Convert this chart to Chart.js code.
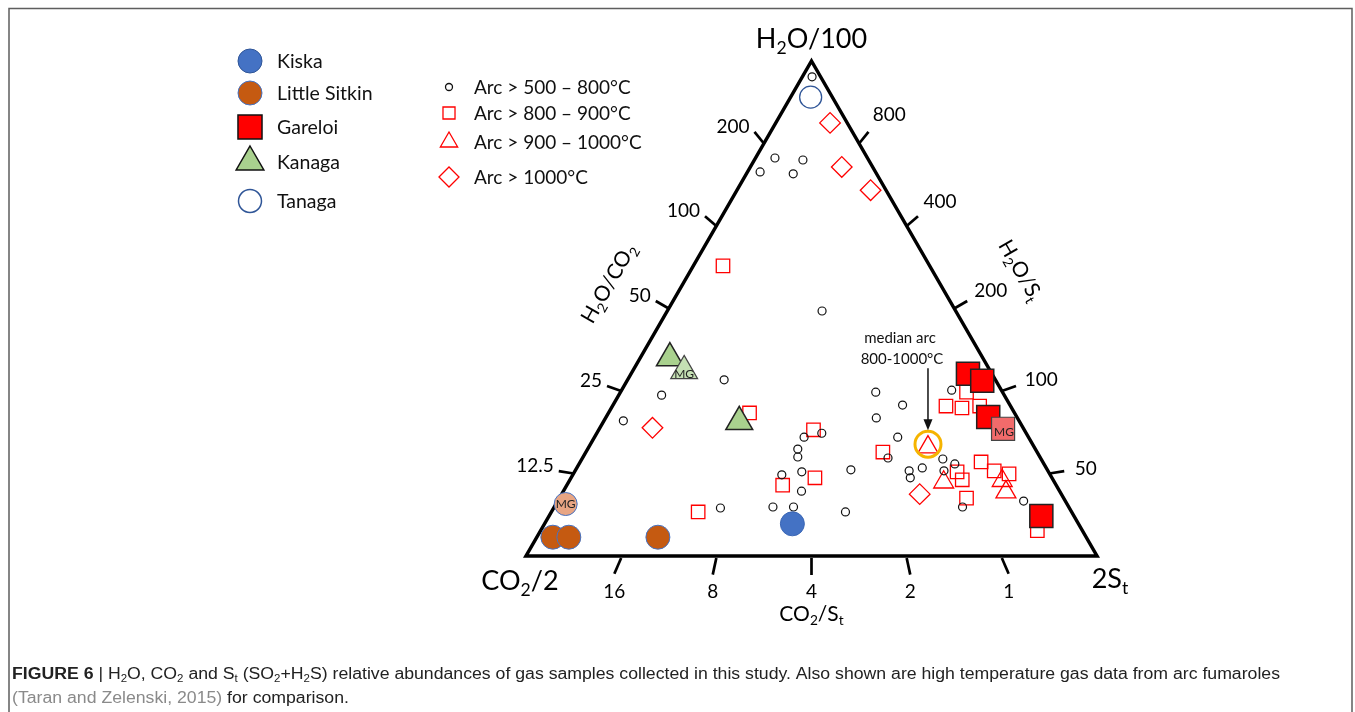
<!DOCTYPE html>
<html>
<head>
<meta charset="utf-8">
<script src="https://cdn.jsdelivr.net/npm/chart.js@4.4.0/dist/chart.umd.min.js"></script>
<style>
  html, body { margin: 0; padding: 0; background: #fff; }
  #wrap { width: 1355px; height: 712px; }
</style>
</head>
<body>
<div id="wrap"><canvas id="ternary" width="1355" height="712"></canvas></div>
<script>
// every point is [H2O/100 fraction, 2St fraction]; CO2/2 is what is left
const arc500_800 = [
  [0.968, 0.017], [0.804, 0.034], [0.776, 0.022], [0.772, 0.082], [0.800, 0.085],
  [0.495, 0.271], [0.356, 0.169], [0.325, 0.075], [0.273, 0.034], [0.240, 0.367],
  [0.248, 0.394], [0.216, 0.368], [0.200, 0.376], [0.164, 0.366], [0.170, 0.398],
  [0.131, 0.417], [0.097, 0.292], [0.099, 0.383], [0.099, 0.419], [0.174, 0.482],
  [0.089, 0.515], [0.331, 0.447], [0.305, 0.507], [0.279, 0.474], [0.240, 0.531],
  [0.198, 0.535], [0.172, 0.585], [0.158, 0.594], [0.178, 0.605], [0.196, 0.632],
  [0.172, 0.646], [0.186, 0.658], [0.099, 0.715], [0.111, 0.816], [0.335, 0.578]
];
const arc800_900 = [
  [0.586, 0.052], [0.289, 0.247], [0.255, 0.376], [0.143, 0.378], [0.158, 0.427],
  [0.089, 0.257], [0.210, 0.520], [0.303, 0.584], [0.299, 0.614], [0.331, 0.606],
  [0.303, 0.643], [0.190, 0.702], [0.170, 0.670], [0.154, 0.687], [0.172, 0.734],
  [0.166, 0.763], [0.117, 0.713], [0.051, 0.870]
];
const arc900_1000 = [[0.220, 0.594], [0.149, 0.657], [0.152, 0.758], [0.129, 0.776]];
const arc1000 = [[0.875, 0.095], [0.786, 0.160], [0.739, 0.234], [0.259, 0.092], [0.125, 0.627]];

const kiska = [[0.065, 0.434]];
const littleSitkin = [[0.038, 0.028], [0.038, 0.056], [0.038, 0.212]];
const littleSitkinMG = [[0.105, 0.017]];
const gareloi = [[0.368, 0.590], [0.354, 0.622], [0.281, 0.669], [0.081, 0.862]];
const gareloiMG = [[0.257, 0.707]];
const kanaga = [[0.400, 0.052], [0.271, 0.238]];
const kanagaMG = [[0.374, 0.090]];
const tanaga = [[0.927, 0.035]];
const medianArc = [[0.226, 0.591]];

// tick positions along each edge (fraction) and their labels
const edgeTickPos = [5 / 6, 4 / 6, 3 / 6, 2 / 6, 1 / 6];
const h2oCo2Ticks = ['200', '100', '50', '25', '12.5'];
const h2oStTicks = ['800', '400', '200', '100', '50'];
const baseTickPos = [1 / 6, 2 / 6, 3 / 6, 4 / 6, 5 / 6];
const co2StTicks = ['16', '8', '4', '2', '1'];

const FONT = 'Lato, "Open Sans", sans-serif';
const CAP_FONT = '"Liberation Sans", Arial, sans-serif';

const toXY = pts => pts.map(([h, s]) => ({ x: s + h / 2, y: h }));

function ds(label, pts, style, radius, fill, stroke, bw) {
  return {
    label: label,
    data: toXY(pts),
    pointStyle: style,
    pointRadius: radius,
    pointHoverRadius: radius,
    pointBackgroundColor: fill,
    pointBorderColor: stroke,
    pointBorderWidth: bw,
    showLine: false,
    clip: false
  };
}

function marker(ctx, style, cx, cy, r, fill, stroke, lw) {
  ctx.beginPath();
  if (style === 'circle') {
    ctx.arc(cx, cy, r, 0, Math.PI * 2);
  } else if (style === 'rect') {
    const a = r * Math.SQRT1_2;
    ctx.rect(cx - a, cy - a, 2 * a, 2 * a);
  } else if (style === 'triangle') {
    ctx.moveTo(cx, cy - r);
    ctx.lineTo(cx + r * 0.866, cy + r / 2);
    ctx.lineTo(cx - r * 0.866, cy + r / 2);
    ctx.closePath();
  } else if (style === 'rectRot') {
    ctx.moveTo(cx - r, cy);
    ctx.lineTo(cx, cy - r);
    ctx.lineTo(cx + r, cy);
    ctx.lineTo(cx, cy + r);
    ctx.closePath();
  }
  if (fill) { ctx.fillStyle = fill; ctx.fill(); }
  if (stroke) { ctx.strokeStyle = stroke; ctx.lineWidth = lw; ctx.stroke(); }
}

// parts: [text, kind] where kind is '' normal, 's' subscript, 'b' bold, 'g' grey
function partFont(kind, size, family) {
  if (kind === 's') return (size * 0.65).toFixed(1) + 'px ' + family;
  if (kind === 'b') return 'bold ' + size + 'px ' + family;
  return size + 'px ' + family;
}
function richWidth(ctx, parts, size, family) {
  let w = 0;
  parts.forEach(([t, k]) => { ctx.font = partFont(k, size, family); w += ctx.measureText(t).width; });
  return w;
}
function drawRich(ctx, parts, x, y, size, align, color, family) {
  family = family || FONT;
  const w = richWidth(ctx, parts, size, family);
  let cx = align === 'center' ? x - w / 2 : align === 'right' ? x - w : x;
  const base = y + size * 0.36;
  ctx.textAlign = 'left';
  ctx.textBaseline = 'alphabetic';
  parts.forEach(([t, k]) => {
    ctx.font = partFont(k, size, family);
    ctx.fillStyle = k === 'g' ? '#8a8a8a' : color;
    ctx.fillText(t, cx, k === 's' ? base + size * 0.22 : base);
    cx += ctx.measureText(t).width;
  });
}

const unit = (dx, dy) => { const l = Math.hypot(dx, dy); return [dx / l, dy / l]; };

const ternaryFrame = {
  id: 'ternaryFrame',
  beforeDatasetsDraw(chart) {
    const { ctx, scales: { x, y } } = chart;
    const px = (u, h) => [x.getPixelForValue(u), y.getPixelForValue(h)];
    const A = px(0.5, 1), L = px(0, 0), R = px(1, 0);
    ctx.save();

    // page frame
    ctx.strokeStyle = '#5e5e5e';
    ctx.lineWidth = 1.5;
    ctx.beginPath();
    ctx.moveTo(9, 720); ctx.lineTo(9, 8.5); ctx.lineTo(1352, 8.5); ctx.lineTo(1352, 720);
    ctx.stroke();

    // triangle
    ctx.strokeStyle = '#000';
    ctx.lineWidth = 3.5;
    ctx.lineJoin = 'miter';
    ctx.beginPath();
    ctx.moveTo(A[0], A[1]); ctx.lineTo(R[0], R[1]); ctx.lineTo(L[0], L[1]); ctx.closePath();
    ctx.stroke();

    // ticks
    ctx.lineWidth = 2.7;
    edgeTickPos.forEach((h, i) => {
      // left edge (H2O/CO2), ticks point away from the 2St corner
      let E = px(h / 2, h), d = unit(E[0] - R[0], E[1] - R[1]);
      let end = [E[0] + d[0] * 15, E[1] + d[1] * 15];
      ctx.beginPath(); ctx.moveTo(E[0], E[1]); ctx.lineTo(end[0], end[1]); ctx.stroke();
      drawRich(ctx, [[h2oCo2Ticks[i], '']], end[0] - 5, end[1] - 6, 19, 'right', '#000');
      // right edge (H2O/St), ticks point away from the CO2/2 corner
      E = px(1 - h / 2, h); d = unit(E[0] - L[0], E[1] - L[1]);
      end = [E[0] + d[0] * 15, E[1] + d[1] * 15];
      ctx.beginPath(); ctx.moveTo(E[0], E[1]); ctx.lineTo(end[0], end[1]); ctx.stroke();
      drawRich(ctx, [[h2oStTicks[i], '']], end[0] + 12 + 10 * d[1], end[1] + 24 * d[1] + 1, 19, 'left', '#000');
    });
    baseTickPos.forEach((u, i) => {
      const E = px(u, 0), d = unit(E[0] - A[0], E[1] - A[1]);
      const end = [E[0] + d[0] * 19, E[1] + d[1] * 19];
      ctx.beginPath(); ctx.moveTo(E[0], E[1] + 2); ctx.lineTo(end[0], end[1]); ctx.stroke();
      drawRich(ctx, [[co2StTicks[i], '']], end[0], E[1] + 35, 19, 'center', '#000');
    });

    // corner and axis titles
    drawRich(ctx, [['H', ''], ['2', 's'], ['O/100', '']], A[0], 38, 27, 'center', '#000');
    drawRich(ctx, [['CO', ''], ['2', 's'], ['/2', '']], L[0] - 6, 580, 27, 'center', '#000');
    drawRich(ctx, [['2S', ''], ['t', 's']], R[0] + 13, 578, 27, 'center', '#000');
    drawRich(ctx, [['CO', ''], ['2', 's'], ['/S', ''], ['t', 's']], A[0], 613, 21, 'center', '#000');
    ctx.save();
    ctx.translate(608, 283); ctx.rotate(-Math.PI / 3);
    drawRich(ctx, [['H', ''], ['2', 's'], ['O/CO', ''], ['2', 's']], 0, 0, 21, 'center', '#000');
    ctx.restore();
    ctx.save();
    ctx.translate(1021, 270); ctx.rotate(Math.PI / 3);
    drawRich(ctx, [['H', ''], ['2', 's'], ['O/S', ''], ['t', 's']], 0, 0, 21, 'center', '#000');
    ctx.restore();

    // legends
    const study = [
      ['Kiska', 'circle', 12, '#4472c4', '#2f5597', 1, 61],
      ['Little Sitkin', 'circle', 12, '#c55a11', '#4472c4', 1, 93],
      ['Gareloi', 'rect', 17, '#ff0000', '#111', 1.5, 127],
      ['Kanaga', 'triangle', 16, '#a9d18e', '#111', 1.5, 162],
      ['Tanaga', 'circle', 11.5, '#fff', '#2f5597', 1.5, 201]
    ];
    study.forEach(([t, st, r, f, s, lw, yy]) => {
      marker(ctx, st, 250, yy, r, f, s, lw);
      drawRich(ctx, [[t, '']], 277, yy, 19.5, 'left', '#111');
    });
    const arcs = [
      ['Arc > 500 \u2013 800\u00b0C', 'circle', 3.5, 87],
      ['Arc > 800 \u2013 900\u00b0C', 'rect', 8.5, 113],
      ['Arc > 900 \u2013 1000\u00b0C', 'triangle', 10, 142],
      ['Arc > 1000\u00b0C', 'rectRot', 10, 177]
    ];
    arcs.forEach(([t, st, r, yy], i) => {
      marker(ctx, st, 449, yy, r, null, i === 0 ? '#111' : '#ff0000', 1.3);
      drawRich(ctx, [[t, '']], 474, yy, 19, 'left', '#111');
    });

    // caption
    const line1 = [
      ['FIGURE 6', 'b'], [' | ', ''], ['H', ''], ['2', 's'], ['O, CO', ''], ['2', 's'], [' and S', ''], ['t', 's'],
      [' (SO', ''], ['2', 's'], ['+H', ''], ['2', 's'],
      ['S) relative abundances of gas samples collected in this study. Also shown are high temperature gas data from arc fumaroles', '']
    ];
    const line2 = [['(Taran and Zelenski, 2015)', 'g'], [' for comparison.', '']];
    const k = 1268 / richWidth(ctx, line1, 16, CAP_FONT);
    ctx.save();
    ctx.translate(12, 0); ctx.scale(k, 1);
    drawRich(ctx, line1, 0, 673, 16, 'left', '#222', CAP_FONT);
    drawRich(ctx, line2, 0, 697, 16, 'left', '#222', CAP_FONT);
    ctx.restore();

    ctx.restore();
  },
  afterDatasetsDraw(chart) {
    const { ctx, scales: { x, y } } = chart;
    const at = ([h, s]) => [x.getPixelForValue(s + h / 2), y.getPixelForValue(h)];
    ctx.save();
    // MG labels
    [[littleSitkinMG[0], 0, 0], [kanagaMG[0], 0, 3], [gareloiMG[0], 1, 3]].forEach(([p, dx, dy]) => {
      const q = at(p);
      drawRich(ctx, [['MG', '']], q[0] + dx, q[1] + dy, 12, 'center', '#222');
    });
    // median arc note and arrow
    const m = at(medianArc[0]);
    drawRich(ctx, [['median arc', '']], m[0] - 28, m[1] - 107, 15, 'center', '#111');
    drawRich(ctx, [['800-1000\u00b0C', '']], m[0] - 26, m[1] - 86, 15, 'center', '#111');
    ctx.strokeStyle = '#111';
    ctx.fillStyle = '#111';
    ctx.lineWidth = 1.5;
    ctx.beginPath(); ctx.moveTo(m[0], m[1] - 76); ctx.lineTo(m[0], m[1] - 22); ctx.stroke();
    ctx.beginPath();
    ctx.moveTo(m[0], m[1] - 14); ctx.lineTo(m[0] - 4.5, m[1] - 25); ctx.lineTo(m[0] + 4.5, m[1] - 25);
    ctx.closePath(); ctx.fill();
    ctx.restore();
  }
};

new Chart(document.getElementById('ternary'), {
  type: 'scatter',
  data: {
    datasets: [
      ds('median arc', medianArc, 'circle', 13, 'rgba(0,0,0,0)', '#f5b400', 3),
      ds('Gareloi MG', gareloiMG, 'rect', 16.3, '#f26b6b', '#444', 1.2),
      ds('Gareloi', gareloi, 'rect', 16.3, '#ff0000', '#222', 1.5),
      ds('Kanaga MG', kanagaMG, 'triangle', 15.5, '#c5e0b4', '#444', 1.2),
      ds('Kanaga', kanaga, 'triangle', 15.5, '#a9d18e', '#222', 1.5),
      ds('Little Sitkin MG', littleSitkinMG, 'circle', 11.5, '#e8a583', '#4472c4', 1),
      ds('Little Sitkin', littleSitkin, 'circle', 12, '#c55a11', '#4472c4', 1),
      ds('Kiska', kiska, 'circle', 12, '#4472c4', '#3a66b5', 1),
      ds('Tanaga', tanaga, 'circle', 11, '#fff', '#2f5597', 1.3),
      ds('Arc > 500 \u2013 800\u00b0C', arc500_800, 'circle', 4, 'rgba(255,255,255,0)', '#111', 1.2),
      ds('Arc > 800 \u2013 900\u00b0C', arc800_900, 'rect', 9.5, 'rgba(255,255,255,0)', '#ff0000', 1.3),
      ds('Arc > 900 \u2013 1000\u00b0C', arc900_1000, 'triangle', 11.5, 'rgba(255,255,255,0)', '#ff0000', 1.3),
      ds('Arc > 1000\u00b0C', arc1000, 'rectRot', 10.3, 'rgba(255,255,255,0)', '#ff0000', 1.3)
    ]
  },
  options: {
    responsive: false,
    animation: false,
    devicePixelRatio: 1,
    events: [],
    layout: { padding: { left: 526, right: 258, top: 61, bottom: 156 } },
    scales: {
      x: { type: 'linear', min: 0, max: 1, display: false },
      y: { type: 'linear', min: 0, max: 1, display: false }
    },
    plugins: { legend: { display: false }, tooltip: { enabled: false } }
  },
  plugins: [ternaryFrame]
});
</script>
</body>
</html>
